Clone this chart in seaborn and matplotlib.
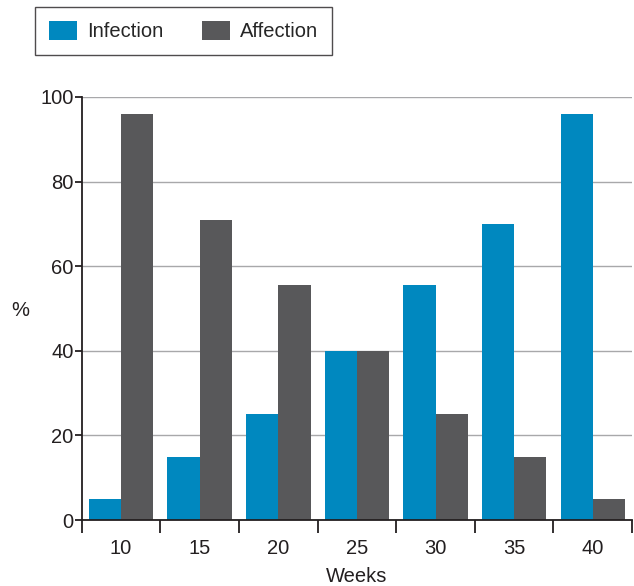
import numpy as np
import pandas as pd
import seaborn as sns
import matplotlib.pyplot as plt
from matplotlib.ticker import FixedLocator

# %% Data
lst_weeks = ['10', '15', '20', '25', '30', '35', '40']
lst_infection = [5, 15, 25, 40, 55.5, 70, 96]
lst_affection = [96, 71, 55.5, 40, 25, 15, 5]

df = pd.DataFrame({'Weeks': lst_weeks * 2,
                   'Value': lst_infection + lst_affection,
                   'Group': ['Infection'] * 7 + ['Affection'] * 7})

# %% Plot
sns.set_style('white')
plt.rcParams['font.family'] = ['Liberation Sans', 'DejaVu Sans']
fs = 14.5

fig = plt.figure(figsize=(6.34, 5.86), dpi=100)
ax = fig.add_axes([0.129, 0.1126, 0.868, 0.722])

sns.barplot(data=df, x='Weeks', y='Value', hue='Group',
            palette=['#0088bf', '#58585a'], width=0.82,
            saturation=1, linewidth=0, ax=ax)

ax.set_xlim(-0.5, 6.5)
ax.set_ylim(0, 100)
ax.set_yticks([0, 20, 40, 60, 80, 100])
ax.yaxis.grid(True, color='#a8a8aa', linewidth=1)
ax.set_axisbelow(True)

for s in ['top', 'right']:
    ax.spines[s].set_visible(False)
ax.spines['left'].set_color('#231f20')
ax.spines['bottom'].set_color('#231f20')
ax.spines['left'].set_linewidth(1.3)
ax.spines['bottom'].set_linewidth(1.3)

ax.tick_params(axis='y', left=True, length=5, width=1.3, color='#231f20',
               labelsize=fs, labelcolor='#231f20', pad=1)
ax.tick_params(axis='x', which='major', length=0, labelsize=fs,
               labelcolor='#231f20', pad=14)
ax.xaxis.set_minor_locator(FixedLocator(np.arange(-0.5, 7, 1)))
ax.tick_params(axis='x', which='minor', bottom=True, length=9, width=1.3,
               color='#231f20')

ax.set_xlabel('Weeks', fontsize=fs, color='#231f20', labelpad=6)
ax.set_ylabel('%', fontsize=fs, color='#231f20', rotation=0, va='center')
ax.yaxis.set_label_coords(-0.111, 0.496)

ax.legend(loc='upper left', bbox_to_anchor=(-0.0855, 1.2128), ncol=2,
          frameon=True, fancybox=False, edgecolor='#231f20', fontsize=fs,
          handlelength=1.4, handleheight=1.05, columnspacing=1.9,
          handletextpad=0.5, borderpad=0.7, borderaxespad=0, title=None)
ax.get_legend().get_frame().set_linewidth(1.0)

fig.savefig('out.png', dpi=100)
